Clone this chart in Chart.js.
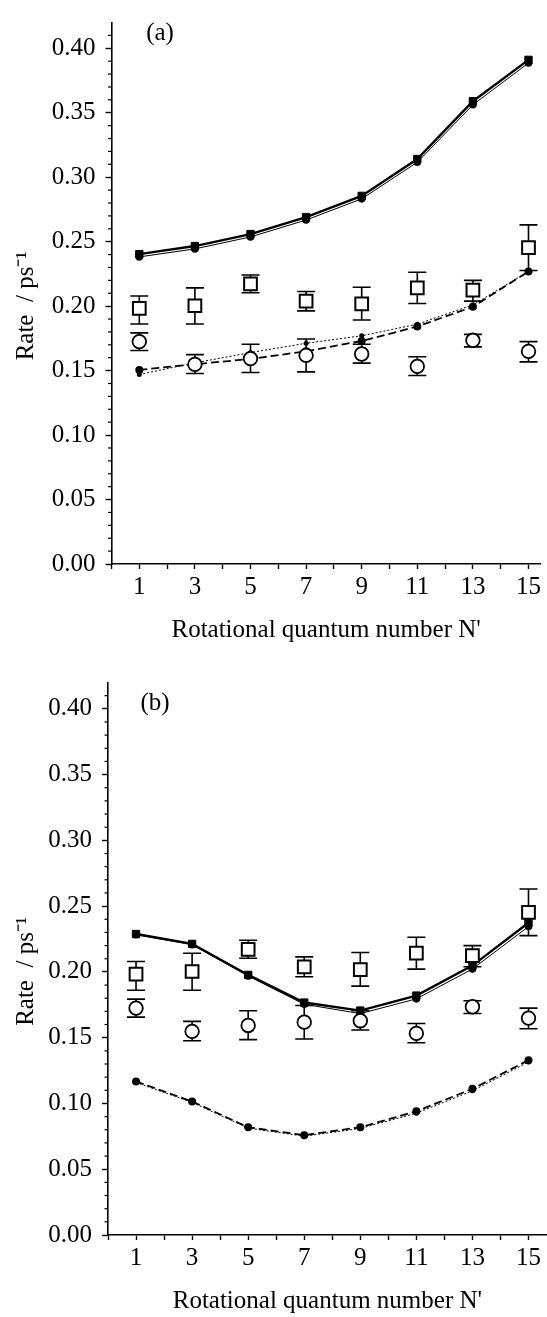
<!DOCTYPE html>
<html>
<head>
<meta charset="utf-8">
<script src="https://cdn.jsdelivr.net/npm/chart.js@4.4.0/dist/chart.umd.min.js"></script>
<style>
  html, body { margin: 0; padding: 0; background: #fff; }
  body { width: 547px; height: 1317px; position: relative; overflow: hidden; }
  .panel { position: absolute; left: 0; width: 547px; }
  #panelA { top: 0; height: 660px; }
  #panelB { top: 660px; height: 657px; }
</style>
</head>
<body>
<div class="panel" id="panelA"><canvas id="chartA"></canvas></div>
<div class="panel" id="panelB"><canvas id="chartB"></canvas></div>
<script>
// rotational levels N'
const nLevels = [1, 3, 5, 7, 9, 11, 13, 15];

// measured rates (same in both panels), open squares and open circles
const expSquare     = [0.1983, 0.2003, 0.2172, 0.2039, 0.2018, 0.2142, 0.2124, 0.2453];
const expSquareLow  = [0.1861, 0.1861, 0.2104, 0.1963, 0.1892, 0.2021, 0.2039, 0.2276];
const expSquareHigh = [0.2079, 0.2142, 0.2241, 0.2114, 0.2147, 0.2263, 0.2200, 0.2630];
const expCircle     = [0.1725, 0.1548, 0.1593, 0.1618, 0.1629, 0.1533, 0.1735, 0.1649];
const expCircleLow  = [0.1656, 0.1477, 0.1485, 0.1490, 0.1558, 0.1462, 0.1684, 0.1568];
const expCircleHigh = [0.1793, 0.1624, 0.1705, 0.1745, 0.1705, 0.1608, 0.1781, 0.1725];

// panel (a) calculated curves
const aSolid     = [0.2403, 0.2466, 0.2559, 0.2691, 0.2855, 0.3141, 0.3589, 0.3910];
const aSolidThin = [0.2382, 0.2444, 0.2537, 0.2668, 0.2832, 0.3116, 0.3562, 0.3886];
const aDashed    = [0.1505, 0.1550, 0.1590, 0.1650, 0.1730, 0.1842, 0.1995, 0.2269];
const aDotted    = [0.1470, 0.1560, 0.1640, 0.1712, 0.1770, 0.1860, 0.2010, 0.2269];

// panel (b) calculated curves
const bSolid     = [0.2288, 0.2213, 0.1977, 0.1767, 0.1706, 0.1820, 0.2048, 0.2374];
const bSolidThin = [0.2283, 0.2207, 0.1969, 0.1754, 0.1683, 0.1795, 0.2022, 0.2345];
const bDashed    = [0.1167, 0.1015, 0.0819, 0.0759, 0.0819, 0.0940, 0.1111, 0.1329];
const bDotted    = [0.1160, 0.1008, 0.0813, 0.0751, 0.0810, 0.0926, 0.1096, 0.1315];

// axis ticks
const yTickValues = [0, 0.05, 0.10, 0.15, 0.20, 0.25, 0.30, 0.35, 0.40];
const xTickValues = [0, 1, 2, 3, 4, 5, 6, 7, 8, 9, 10, 11, 12, 13, 14, 15];
const xTickLabels = [1, 3, 5, 7, 9, 11, 13, 15];

const serif = "'Liberation Serif', 'Times New Roman', serif";

function pts(vals) {
    return nLevels.map((n, i) => ({ x: n, y: vals[i] }));
}

// error bars, minor ticks and the panel letter
const extras = {
    id: 'extras',
    beforeDatasetsDraw(chart) {
        const ctx = chart.ctx, xs = chart.scales.x, ys = chart.scales.y;
        const bars = [[expSquareLow, expSquareHigh], [expCircleLow, expCircleHigh]];
        ctx.save();
        ctx.strokeStyle = '#000';
        ctx.lineWidth = 1.6;
        bars.forEach(([lo, hi]) => {
            nLevels.forEach((n, i) => {
                const px = xs.getPixelForValue(n);
                const y1 = ys.getPixelForValue(lo[i]);
                const y2 = ys.getPixelForValue(hi[i]);
                ctx.beginPath();
                ctx.moveTo(px, y1); ctx.lineTo(px, y2);
                ctx.moveTo(px - 9, y1); ctx.lineTo(px + 9, y1);
                ctx.moveTo(px - 9, y2); ctx.lineTo(px + 9, y2);
                ctx.stroke();
            });
        });
        ctx.restore();
    },
    afterDraw(chart, args, opts) {
        const ctx = chart.ctx, ys = chart.scales.y;
        const left = chart.chartArea.left;
        ctx.save();
        ctx.strokeStyle = '#000';
        ctx.lineWidth = 1.2;
        for (let k = 1; k <= 41; k++) {
            if (k % 5 === 0) continue;
            const py = ys.getPixelForValue(k / 100);
            ctx.beginPath();
            ctx.moveTo(left - 3.5, py); ctx.lineTo(left, py);
            ctx.stroke();
        }
        ctx.fillStyle = '#000';
        ctx.font = '25px ' + serif;
        ctx.textAlign = 'center';
        ctx.textBaseline = 'middle';
        ctx.fillText(opts.label, opts.labelX, opts.labelY);
        ctx.restore();
    }
};

function makeChart(id, cfg) {
    const tickFont = { family: serif, size: 25, lineHeight: 1 };
    return new Chart(document.getElementById(id), {
        type: 'scatter',
        data: {
            datasets: [
                { data: pts(expSquare), showLine: false, pointStyle: 'rect', pointRadius: 9,
                  backgroundColor: '#fff', borderColor: '#000', borderWidth: 2 },
                { data: pts(expCircle), showLine: false, pointStyle: 'circle', pointRadius: 6.8,
                  backgroundColor: '#fff', borderColor: '#000', borderWidth: 1.8 },
                { data: pts(cfg.solid), showLine: true, borderColor: '#000', borderWidth: 2.4,
                  pointStyle: 'rect', pointRadius: 5.2, backgroundColor: '#000', pointBorderWidth: 1 },
                { data: pts(cfg.solidThin), showLine: true, borderColor: '#000', borderWidth: 1,
                  pointStyle: 'circle', pointRadius: 3.8, backgroundColor: '#000', pointBorderWidth: 0 },
                { data: pts(cfg.dashed), showLine: true, borderColor: '#000', borderWidth: 1.8,
                  borderDash: [8, 4], pointStyle: 'circle', pointRadius: 4, backgroundColor: '#000',
                  pointBorderWidth: 0 },
                { data: pts(cfg.dotted), showLine: true, borderColor: '#000', borderWidth: 1,
                  borderDash: [2, 2], pointStyle: 'circle', pointRadius: 2.5, backgroundColor: '#000',
                  pointBorderWidth: 0 }
            ]
        },
        options: {
            responsive: true,
            maintainAspectRatio: false,
            animation: false,
            events: [],
            layout: { autoPadding: false, padding: { top: cfg.padTop, right: 0, bottom: 0, left: 0 } },
            plugins: {
                legend: { display: false },
                tooltip: { enabled: false },
                extras: { label: cfg.label, labelX: cfg.labelX, labelY: cfg.labelY }
            },
            scales: {
                x: {
                    type: 'linear', min: 0, max: cfg.xMax,
                    afterBuildTicks: s => { s.ticks = xTickValues.map(v => ({ value: v })); },
                    afterFit: s => { s.height = cfg.xHeight; },
                    ticks: {
                        autoSkip: false, maxRotation: 0, padding: 6, color: '#000', font: tickFont,
                        callback: v => (xTickLabels.includes(v) ? String(v) : '')
                    },
                    grid: { drawOnChartArea: false, tickLength: 5, tickWidth: 1.4, tickColor: '#000' },
                    border: { display: true, color: '#000', width: 1.6 },
                    title: {
                        display: true, text: "Rotational quantum number N'", color: '#000',
                        font: { family: serif, size: 25, lineHeight: 1 },
                        padding: { top: 0, bottom: cfg.xTitlePad }
                    }
                },
                y: {
                    type: 'linear', min: 0, max: 0.42,
                    afterBuildTicks: s => { s.ticks = yTickValues.map(v => ({ value: v })); },
                    afterFit: s => { s.width = cfg.yWidth; },
                    ticks: { padding: 10, color: '#000', font: tickFont, callback: v => v.toFixed(2) },
                    grid: { drawOnChartArea: false, tickLength: 6, tickWidth: 1.4, tickColor: '#000' },
                    border: { display: true, color: '#000', width: 1.6 },
                    title: {
                        display: true, text: 'Rate  / ps\u207B\u00B9    ', color: '#000',
                        font: { family: serif, size: 25, lineHeight: 1 },
                        padding: { top: 14, bottom: 0 }
                    }
                }
            }
        },
        plugins: [extras]
    });
}

makeChart('chartA', {
    solid: aSolid, solidThin: aSolidThin, dashed: aDashed, dotted: aDotted,
    padTop: 10.4, xHeight: 96, xTitlePad: 17, yWidth: 111.5, xMax: 15.44,
    label: '(a)', labelX: 160, labelY: 33
});
makeChart('chartB', {
    solid: bSolid, solidThin: bSolidThin, dashed: bDashed, dotted: bDotted,
    padTop: 22.5, xHeight: 82, xTitlePad: 3, yWidth: 108, xMax: 15.65,
    label: '(b)', labelX: 155, labelY: 43
});
</script>
</body>
</html>
